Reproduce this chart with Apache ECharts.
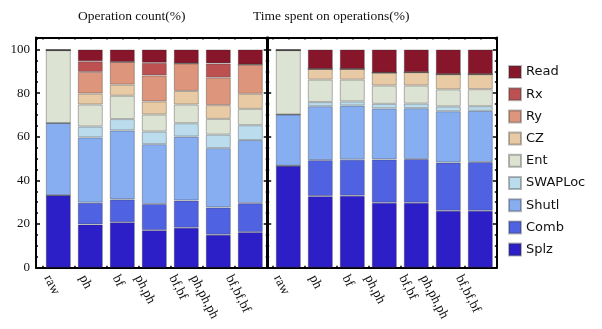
<!DOCTYPE html>
<html>
<head>
<meta charset="utf-8">
<script src="https://cdn.jsdelivr.net/npm/echarts@6/dist/echarts.min.js"></script>
<style>
  html, body { margin: 0; padding: 0; background: #fff; }
  #chart { width: 602px; height: 329px; }
</style>
</head>
<body>
<div id="chart"></div>
<script>
// Circuit variants along the x axis
const categories = ['raw', 'ph', 'bf', 'ph,ph', 'bf,bf', 'ph,ph,ph', 'bf,bf,bf'];

// Operation kinds, bottom of the stack first
const opNames = ['Splz', 'Comb', 'Shutl', 'SWAPLoc', 'Ent', 'CZ', 'Ry', 'Rx', 'Read'];
const opColors = ['#2c1fc8', '#4f63e2', '#86aef0', '#badcec', '#dde3d3', '#e8cba5', '#dd967b', '#bd5152', '#87162b'];

// Operation count (%) per kind, one value per variant
const countSplz    = [33.2, 19.8, 20.8, 17.2, 18.3, 15.1, 16.3];
const countComb    = [0,    10.0, 10.5, 12.0, 12.5, 12.5, 13.3];
const countShutl   = [33.1, 29.9, 31.6, 27.4, 29.3, 27.2, 28.9];
const countSWAPLoc = [0,     5.0,  5.2,  5.8,  6.1,  6.2,  6.8];
const countEnt     = [33.4, 10.1, 10.7,  7.8,  8.6,  7.2,  7.5];
const countCZ      = [0,     5.0,  5.1,  6.0,  6.2,  6.3,  6.9];
const countRy      = [0,     9.9, 10.4, 11.9, 12.6, 12.6, 13.4];
const countRx      = [0,     4.9,  0,    5.8,  0,    6.5,  0];
const countRead    = [0.3,   5.4,  5.7,  6.1,  6.4,  6.4,  6.9];

// Time spent (%) per kind, one value per variant
const timeSplz    = [46.7, 32.8, 33.0, 29.8, 29.8, 26.1, 26.1];
const timeComb    = [0,    16.5, 16.5, 19.8, 20.0, 22.1, 22.3];
const timeShutl   = [23.5, 24.7, 24.8, 23.4, 23.3, 23.5, 23.5];
const timeSWAPLoc = [0,     1.9,  1.9,  2.1,  2.1,  2.2,  2.1];
const timeEnt     = [29.5, 10.3, 10.0,  8.4,  8.3,  7.8,  7.8];
const timeCZ      = [0,     4.9,  4.9,  5.9,  6.1,  7.0,  6.9];
const timeRy      = [0,     0,    0,    0,    0,    0,    0];
const timeRx      = [0,     0,    0,    0,    0,    0,    0];
const timeRead    = [0.3,   8.9,  8.9, 10.6, 10.4, 11.3, 11.3];

const countSets = [countSplz, countComb, countShutl, countSWAPLoc, countEnt, countCZ, countRy, countRx, countRead];
const timeSets  = [timeSplz, timeComb, timeShutl, timeSWAPLoc, timeEnt, timeCZ, timeRy, timeRx, timeRead];

const serif = 'Liberation Serif';
const LABEL_SIZE = 13.5;
const LABEL_ROTATE = -63;
const Y_MAX = 105.5;
const TOP = 37.5, HEIGHT = 230.2;
const BAND_PX = 32;   // width of one category band in pixels

// Frame ticks along x: at bar centres and at the gaps between bars
const halfTicks = [];
for (let v = -0.5; v <= categories.length - 0.5; v += 0.5) halfTicks.push(v);

// Rotated labels hang below the axis with their far end near the bar centre:
// each label's start is moved left according to its length.
const measureCtx = document.createElement('canvas').getContext('2d');
measureCtx.font = LABEL_SIZE + 'px "' + serif + '"';
const labelPos = categories.map((name, i) => {
  const len = measureCtx.measureText(name).width;
  return i - Math.max(0, 0.5 * len - 5) / BAND_PX;
});
function labelFor(v) {
  let best = 0;
  labelPos.forEach((p, j) => { if (Math.abs(p - v) < Math.abs(labelPos[best] - v)) best = j; });
  return categories[best];
}

const frameLine = { show: true, onZero: false, lineStyle: { color: '#000', width: 2 } };

// Frame grid: four black edges with inward ticks; the bottom edge carries the names
function frameXAxes(gridIndex, min, max) {
  const base = {
    type: 'value', gridIndex, min, max,
    axisLine: frameLine,
    axisTick: { show: true, inside: true, length: 2, customValues: halfTicks, lineStyle: { color: '#000', width: 1.5 } },
    splitLine: { show: false }
  };
  return [
    Object.assign({}, base, {
      position: 'bottom',
      axisLabel: {
        show: true, customValues: labelPos, rotate: LABEL_ROTATE, margin: 5,
        align: 'left', verticalAlign: 'top',
        fontFamily: serif, fontSize: LABEL_SIZE, color: '#111',
        formatter: labelFor
      }
    }),
    Object.assign({}, base, { position: 'top', axisLabel: { show: false } })
  ];
}

function frameYAxes(gridIndex, withLabels) {
  const base = {
    type: 'value', gridIndex, min: 0, max: Y_MAX, interval: 20,
    axisLine: frameLine,
    axisTick: { show: true, inside: true, length: 4, lineStyle: { color: '#000', width: 1.5 } },
    minorTick: { show: true, splitNumber: 4, length: 2, lineStyle: { color: '#000', width: 1.5 } },
    splitLine: { show: false }
  };
  return [
    Object.assign({}, base, {
      position: 'left',
      axisLabel: {
        show: withLabels, showMaxLabel: false, margin: 6,
        fontFamily: serif, fontSize: 13, color: '#111'
      }
    }),
    Object.assign({}, base, { position: 'right', axisLabel: { show: false } })
  ];
}

// Bar grid: category axis that places the stacked bars
function barXAxis(gridIndex) {
  return {
    type: 'category', gridIndex, data: categories,
    axisLine: { show: false }, axisTick: { show: false }, splitLine: { show: false },
    axisLabel: { show: false }
  };
}
function barYAxis(gridIndex) {
  return {
    type: 'value', gridIndex, min: 0, max: Y_MAX,
    axisLine: { show: false }, axisTick: { show: false },
    axisLabel: { show: false }, splitLine: { show: false }
  };
}

function panelSeries(sets, axisIndex, stack) {
  return sets.map((vals, k) => ({
    name: opNames[k],
    type: 'bar',
    stack,
    xAxisIndex: axisIndex,
    yAxisIndex: axisIndex,
    barWidth: 25,
    itemStyle: { color: opColors[k], borderColor: 'rgba(50,50,50,0.35)', borderWidth: 1 },
    emphasis: { disabled: true },
    data: vals
  }));
}

const gridBase = { top: TOP, height: HEIGHT, outerBoundsMode: 'none', containLabel: false };

const chart = echarts.init(document.getElementById('chart'), null, { renderer: 'canvas' });
chart.setOption({
  animation: false,
  backgroundColor: '#fff',
  title: [
    { text: 'Operation count(%)', left: 78, top: 9, padding: 0,
      textStyle: { fontFamily: serif, fontSize: 13.5, fontWeight: 'normal', color: '#111' } },
    { text: 'Time spent on operations(%)', left: 253, top: 9, padding: 0,
      textStyle: { fontFamily: serif, fontSize: 13.5, fontWeight: 'normal', color: '#111' } }
  ],
  legend: {
    orient: 'vertical', left: 508, top: 65, padding: 0,
    itemWidth: 12, itemHeight: 12, itemGap: 8.2,
    icon: 'rect',
    data: opNames.slice().reverse(),
    textStyle: { fontFamily: 'DejaVu Sans', fontSize: 13, color: '#111' },
    selectedMode: false
  },
  grid: [
    Object.assign({ left: 36, width: 231.7 }, gridBase),     // left frame
    Object.assign({ left: 267.2, width: 229.6 }, gridBase),  // right frame
    Object.assign({ left: 42.3, width: 224 }, gridBase),     // left bars
    Object.assign({ left: 272.3, width: 224 }, gridBase)     // right bars
  ],
  xAxis: [].concat(
    frameXAxes(0, -0.7, 6.54), frameXAxes(1, -0.66, 6.515),
    [barXAxis(2), barXAxis(3)]
  ),
  yAxis: [].concat(
    frameYAxes(0, true), frameYAxes(1, false),
    [barYAxis(2), barYAxis(3)]
  ),
  series: [].concat(
    panelSeries(countSets, 4, 'count'),
    panelSeries(timeSets, 5, 'time')
  )
});
</script>
</body>
</html>
